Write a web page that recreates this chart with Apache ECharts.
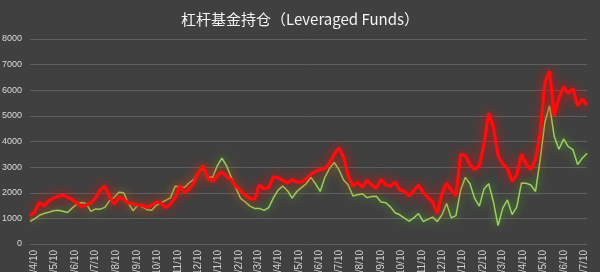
<!DOCTYPE html>
<html>
<head>
<meta charset="utf-8">
<script src="https://cdn.jsdelivr.net/npm/echarts@6/dist/echarts.min.js"></script>
<style>
html,body{margin:0;padding:0;background:#404040;}
#chart{width:600px;height:272px;}
</style>
</head>
<body>
<div id="chart"></div>
<script>
// Weekly report dates start here (one point per week)
const firstReportDate = [2018, 4, 3];

// Leveraged funds short (red) and long (green), contracts, weekly
const shortValues = [
  1100,1250,1620,1480,1680,1780,1860,1900,1830,1740,
  1600,1460,1520,1600,1800,2100,2250,1850,1550,1820,
  1750,1600,1560,1520,1510,1420,1520,1640,1590,1420,
  1560,1800,2280,2000,2150,2400,2800,3050,2580,2440,
  2650,2820,2630,2510,2250,2080,1900,1770,1750,2300,
  2150,2200,2620,2580,2480,2380,2520,2420,2420,2540,
  2720,2830,2900,2950,3150,3500,3750,3400,2650,2260,
  2400,2220,2480,2300,2180,2520,2320,2250,2420,2120,
  2050,1880,2080,2300,2020,1820,1650,1200,1950,2380,
  2100,1900,3500,3450,3100,2900,3050,3900,5100,4580,
  3450,3120,2950,2450,2700,3500,3120,2900,3300,4300,
  6300,6750,5000,5700,6130,5880,6050,5400,5650,5420
];
const longValues = [
  880,980,1120,1190,1240,1300,1320,1280,1230,1400,
  1550,1620,1580,1270,1370,1360,1430,1690,1820,2020,
  2000,1600,1300,1500,1450,1340,1320,1510,1610,1700,
  1800,2250,2230,2200,2390,2520,2800,2950,2620,2600,
  3050,3350,3050,2600,2180,1780,1640,1480,1390,1390,
  1310,1420,1800,2100,2260,2080,1790,2050,2200,2350,
  2600,2350,2050,2600,2950,3180,2900,2500,2300,1870,
  1920,1960,1810,1850,1860,1640,1610,1450,1220,1140,
  1010,890,1020,1190,880,960,1050,880,1130,1580,
  1020,1110,2100,2600,2350,1780,1480,2150,2350,1650,
  720,1400,1720,1150,1450,2380,2370,2300,2050,3300,
  4750,5400,4200,3700,4100,3800,3680,3100,3350,3540
];

// X-axis tick labels (monthly, on the 10th)
const tickLabels = [
  '2018/4/10','2018/5/10','2018/6/10','2018/7/10','2018/8/10','2018/9/10',
  '2018/10/10','2018/11/10','2018/12/10','2019/1/10','2019/2/10','2019/3/10',
  '2019/4/10','2019/5/10','2019/6/10','2019/7/10','2019/8/10','2019/9/10',
  '2019/10/10','2019/11/10','2019/12/10','2020/1/10','2020/2/10','2020/3/10',
  '2020/4/10','2020/5/10','2020/6/10','2020/7/10'
];
const yTicks = [0,1000,2000,3000,4000,5000,6000,7000,8000];

const dates = shortValues.map((_, i) =>
  new Date(firstReportDate[0], firstReportDate[1]-1, firstReportDate[2] + 7*i).getTime());
const tickTimes = tickLabels.map(s => { const p = s.split('/').map(Number); return new Date(p[0], p[1]-1, p[2]).getTime(); });
const labelOf = {};
tickTimes.forEach((t, i) => { labelOf[t] = tickLabels[i]; });
const fmt = v => labelOf[v] !== undefined ? labelOf[v] : '';

const chart = echarts.init(document.getElementById('chart'), null, {renderer:'canvas'});
chart.setOption({
  animation:false,
  backgroundColor:'#404040',
  title:{
    text:'杠杆基金持仓（Leveraged Funds）',
    left:'center', top:7,
    textStyle:{color:'#f4f4f4', fontSize:15, fontWeight:'normal', fontFamily:'Noto Sans CJK SC'}
  },
  grid:{left:30, right:13, top:39, bottom:28, containLabel:false, outerBoundsMode:'none'},
  xAxis:{
    type:'value',
    min:dates[0], max:dates[dates.length-1],
    axisLine:{show:false}, axisTick:{show:false}, splitLine:{show:false},
    axisLabel:{
      customValues:tickTimes, formatter:fmt, rotate:90, hideOverlap:false,
      showMinLabel:true, showMaxLabel:true,
      color:'#d2d2d2', fontSize:10, margin:6, fontFamily:'Liberation Sans'
    }
  },
  yAxis:{
    type:'value', min:yTicks[0], max:yTicks[yTicks.length-1], interval:yTicks[1]-yTicks[0],
    axisLine:{show:false}, axisTick:{show:false},
    axisLabel:{color:'#dadada', fontSize:9, margin:8, fontFamily:'Liberation Sans', formatter:v => String(v)},
    splitLine:{lineStyle:{color:'#606060', width:1}}
  },
  series:[
    {
      name:'Long', type:'line', symbol:'none', z:2,
      data:dates.map((d,i)=>[d, longValues[i]]),
      lineStyle:{color:'#9fcf62', width:1.5, shadowColor:'rgba(80,180,30,1)', shadowBlur:8}
    },
    {
      name:'Short', type:'line', symbol:'none', z:3,
      data:dates.map((d,i)=>[d, shortValues[i]]),
      lineStyle:{color:'#ff0d0d', width:3.2, shadowColor:'rgba(255,0,0,1)', shadowBlur:12}
    }
  ]
});
</script>
</body>
</html>
